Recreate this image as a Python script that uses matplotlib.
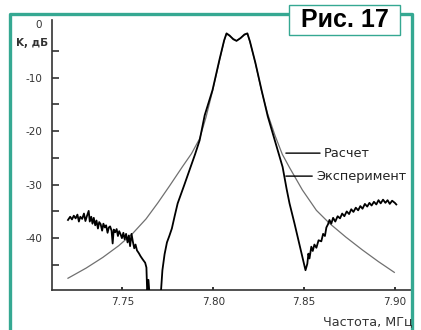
import matplotlib
matplotlib.use("Agg")
import matplotlib.pyplot as plt
from matplotlib.lines import Line2D
from matplotlib.patches import Rectangle

# ---- data (frequency in MHz, transfer K in dB) ----
exp_freq = [7.7200, 7.7212, 7.7222, 7.7232, 7.7242, 7.7252, 7.7260, 7.7268, 7.7278, 7.7288,
            7.7296, 7.7304, 7.7314, 7.7320, 7.7328, 7.7335, 7.7342, 7.7350, 7.7357, 7.7365,
            7.7372, 7.7380, 7.7388, 7.7395, 7.7403, 7.7410, 7.7418, 7.7425, 7.7432, 7.7440,
            7.7446, 7.7452, 7.7460, 7.7468, 7.7475, 7.7482, 7.7490, 7.7497, 7.7505, 7.7512,
            7.7520, 7.7528, 7.7535, 7.7542, 7.7550, 7.7557, 7.7565, 7.7572, 7.7580, 7.7590,
            7.7600, 7.7612, 7.7625, 7.7632, 7.7637, 7.7643, 7.7650, 7.7710, 7.7720, 7.7732,
            7.7745, 7.7758, 7.7772, 7.7788, 7.7804, 7.7840, 7.7875, 7.7900, 7.7925,
            7.7953, 7.7996, 7.8035, 7.8060, 7.8073, 7.8090, 7.8110, 7.8128, 7.8150, 7.8172,
            7.8188, 7.8202, 7.8232, 7.8266, 7.8300, 7.8340, 7.8382, 7.8404, 7.8420, 7.8447,
            7.8470, 7.8491, 7.8508, 7.8518, 7.8524, 7.8530, 7.8540, 7.8548, 7.8557, 7.8568,
            7.8580, 7.8595, 7.8605, 7.8615, 7.8623, 7.8632, 7.8640, 7.8650, 7.8660, 7.8672,
            7.8685, 7.8698, 7.8710, 7.8722, 7.8735, 7.8748, 7.8760, 7.8772, 7.8785, 7.8798,
            7.8810, 7.8822, 7.8835, 7.8848, 7.8860, 7.8872, 7.8885, 7.8898, 7.8910, 7.8922,
            7.8935, 7.8948, 7.8960, 7.8972, 7.8985, 7.9000, 7.9008]
exp_db = [-36.6, -36.0, -36.5, -35.8, -36.3, -35.6, -36.9, -36.0, -36.4, -35.4,
          -36.8, -35.9, -34.9, -36.9, -36.0, -37.3, -36.2, -37.6, -36.7, -38.2,
          -37.0, -37.4, -38.6, -37.3, -38.0, -37.6, -39.0, -38.0, -37.8, -38.6,
          -41.0, -38.4, -38.9, -38.3, -39.6, -38.7, -39.3, -40.0, -39.0, -40.2,
          -39.2, -40.8, -39.5, -41.5, -39.2, -40.6, -41.9, -41.2, -42.3, -42.8,
          -43.4, -44.0, -44.6, -45.5, -51.0, -47.8, -51.0, -51.0, -46.0, -43.0,
          -40.8, -39.6, -38.2, -35.8, -33.5, -30.1, -26.7, -24.3, -21.7,
          -17.0, -12.3, -6.5, -3.0, -1.7, -2.1, -2.8, -3.1, -2.6, -1.9,
          -1.7, -3.2, -7.2, -12.3, -17.2, -21.8, -26.7, -30.8, -33.5, -37.2,
          -40.5, -43.6, -46.0, -44.8, -42.9, -43.8, -41.6, -42.4, -41.2, -41.8,
          -40.4, -40.6, -39.2, -39.6, -38.0, -37.4, -36.6, -37.3, -36.2, -36.9,
          -35.9, -36.3, -35.4, -35.9, -35.0, -35.5, -34.6, -35.1, -34.3, -34.8,
          -34.0, -34.5, -33.6, -34.1, -33.4, -33.9, -33.2, -33.7, -32.9, -33.5,
          -32.8, -33.4, -32.9, -33.6, -33.0, -33.4, -33.7]

calc_freq = [7.7200, 7.7300, 7.7392, 7.7480, 7.7557, 7.7630, 7.7695, 7.7760, 7.7831, 7.7880,
             7.7925, 7.7960, 7.7996, 7.8035, 7.8060, 7.8073, 7.8090, 7.8128, 7.8172, 7.8188,
             7.8202, 7.8232, 7.8266, 7.8300, 7.8340, 7.8380, 7.8420, 7.8491, 7.8568, 7.8639,
             7.8730, 7.8821, 7.8910, 7.8997]
calc_db = [-47.5, -45.6, -43.6, -41.4, -39.1, -36.4, -33.4, -30.2, -26.6, -24.2,
           -21.4, -17.4, -12.5, -6.7, -3.1, -1.8, -2.2, -3.1, -2.0, -1.8,
           -3.3, -7.3, -12.5, -16.8, -20.8, -24.3, -26.8, -31.0, -34.8, -37.2,
           -39.8, -42.2, -44.4, -46.4]

x_ticks = [7.75, 7.80, 7.85, 7.90]
x_labels = ["7.75", "7.80", "7.85", "7.90"]
y_ticks = [0, -5, -10, -15, -20, -25, -30, -35, -40, -45]
y_labels = ["0", "", "-10", "", "-20", "", "-30", "", "-40", ""]

TEAL = "#35a892"
W, H = 421, 330

fig = plt.figure(figsize=(W / 100, H / 100), dpi=100)
fig.patch.set_facecolor("white")

# axes box in pixel terms: left 52, right 413, top 20, bottom 290
ax = fig.add_axes([52 / W, (H - 290) / H, (413 - 52) / W, (290 - 20) / H])
ax.plot(calc_freq, calc_db, color="#707070", lw=0.9, zorder=2)
ax.plot(exp_freq, exp_db, color="black", lw=1.3, zorder=3)

ax.set_xlim(7.7112, 7.910)
ax.set_ylim(-49.7, 0.8)

for side in ("top", "right"):
    ax.spines[side].set_visible(False)
for side in ("left", "bottom"):
    ax.spines[side].set_color("#333333")
    ax.spines[side].set_linewidth(1.2)

ax.set_xticks(x_ticks)
ax.set_xticklabels(x_labels)
ax.set_yticks(y_ticks)
ax.set_yticklabels(y_labels)
ax.tick_params(axis="y", direction="in", length=5, width=1.2, pad=7,
               labelsize=7.5, labelcolor="#333333", color="#333333")
ax.tick_params(axis="x", direction="in", length=2.5, width=1.4, pad=5,
               labelsize=7.5, labelcolor="#333333", color="#333333")
ax.yaxis.get_major_ticks()[0].tick1line.set_visible(False)

# curve labels with leader lines
ax.annotate("Расчет", xy=(7.8400, -24.1), xytext=(7.8611, -24.1),
            va="center", ha="left", fontsize=9.3, color="#222222",
            arrowprops=dict(arrowstyle="-", color="black", lw=1.0,
                            shrinkA=1, shrinkB=0))
ax.annotate("Эксперимент", xy=(7.8400, -28.4), xytext=(7.8568, -28.4),
            va="center", ha="left", fontsize=9.3, color="#222222",
            arrowprops=dict(arrowstyle="-", color="black", lw=1.0,
                            shrinkA=1, shrinkB=0))

# axis titles as placed in the original
fig.text(48 / W, 1 - 43 / H, "K, дБ", ha="right", va="center",
         fontsize=7.5, fontweight="bold", color="#333333")
fig.text(413 / W, 1 - 322 / H, "Частота, МГц", ha="right", va="center",
         fontsize=9.2, color="#333333")

# teal frame open at the bottom, with the figure-number box
def px_line(xs, ys, lw):
    fig.add_artist(Line2D([x / W for x in xs], [1 - y / H for y in ys],
                          color=TEAL, lw=lw, transform=fig.transFigure,
                          solid_capstyle="butt"))

px_line([9.5, 9.5, 289], [H, 13.5, 13.5], 2.4)
px_line([400, 412, 412], [13.5, 13.5, H], 2.4)
fig.add_artist(Rectangle((289 / W, 1 - 35 / H), (400 - 289) / W, 30 / H,
                         transform=fig.transFigure, facecolor="white",
                         edgecolor=TEAL, lw=1.0))
fig.text(344.5 / W, 1 - 20 / H, "Рис. 17", ha="center", va="center",
         fontsize=18, fontweight="bold", family="Liberation Sans", color="black")

fig.savefig("out.png", dpi=100)
